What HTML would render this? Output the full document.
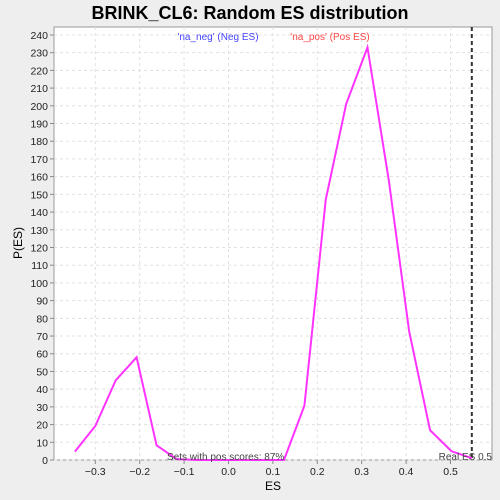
<!DOCTYPE html>
<html><head><meta charset="utf-8"><style>
body{margin:0;background:#eeeeee;font-family:"Liberation Sans",sans-serif;overflow:hidden;}
svg{display:block;}
</style></head><body>
<svg width="500" height="500" xmlns="http://www.w3.org/2000/svg">
<text x="250" y="19" text-anchor="middle" font-size="18" font-weight="bold" fill="#000">BRINK_CL6: Random ES distribution</text>
<rect x="54" y="27" width="438" height="433" fill="#fff" stroke="#999"/>
<g id="grid"></g><g id="axes"></g>
<text x="218" y="40" text-anchor="middle" font-size="10" fill="#4444ff">'na_neg' (Neg ES)</text>
<text x="330" y="40" text-anchor="middle" font-size="10" fill="#ff4444">'na_pos' (Pos ES)</text>
<text x="22" y="243" text-anchor="middle" font-size="12" transform="rotate(-90 22 243)">P(ES)</text>
<text x="273" y="490" text-anchor="middle" font-size="12">ES</text>
<g id="series"></g>
<text x="167" y="460" font-size="10" fill="#444">Sets with pos scores: 87%</text>
<text x="492" y="460" text-anchor="end" font-size="10" fill="#444">Real ES 0.5</text>
</svg>
<script>
const esValues=[-0.346,-0.3,-0.254,-0.207,-0.162,-0.117,-0.07,-0.023,0.023,0.07,0.125,0.171,0.219,0.265,0.313,0.361,0.407,0.454,0.502,0.548];
const pValues=[4.7,19.2,45,58,8.3,0.5,0,0,0,0,0,30.7,147,201,233,158,72.5,16.8,5,1];
const realES=0.548;
const xTicks=[-0.3,-0.2,-0.1,0.0,0.1,0.2,0.3,0.4,0.5];
const yTicks=[0,10,20,30,40,50,60,70,80,90,100,110,120,130,140,150,160,170,180,190,200,210,220,230,240];
const NS="http://www.w3.org/2000/svg";
const X=v=>228.5+v*444, Y=v=>460-v*1.771;
function mk(t,a,p){const e=document.createElementNS(NS,t);for(const k in a)e.setAttribute(k,a[k]);p.appendChild(e);return e;}
const grid=document.getElementById('grid'),axes=document.getElementById('axes'),ser=document.getElementById('series');
xTicks.forEach(t=>{
 const g=mk('line',{x1:X(t),x2:X(t),y1:27,y2:460,stroke:'#e0e0e0','stroke-dasharray':'3,3'},grid);
 
 
 const tk=mk('line',{x1:X(t),x2:X(t),y1:460,y2:464,stroke:'#888'},axes);
 
 
 const l=mk('text',{x:X(t),y:475,'text-anchor':'middle','font-size':'10.5',fill:'#222'},axes);
 l.textContent=t.toFixed(1).replace('-','\u2212');
 
 
});
yTicks.forEach(t=>{
 const g=mk('line',{x1:54,x2:492,y1:Y(t),y2:Y(t),stroke:'#e0e0e0','stroke-dasharray':'3,3'},grid);
 
 
 const tk=mk('line',{x1:50,x2:54,y1:Y(t),y2:Y(t),stroke:'#888'},axes);
 
 
 const l=mk('text',{x:48,y:Y(t)+4,'text-anchor':'end','font-size':'10.5',fill:'#222'},axes);
 l.textContent=t;
 
 
});
const rl=mk('line',{x1:X(realES),x2:X(realES),y1:27,y2:460,stroke:'#333','stroke-width':2,'stroke-dasharray':'4,3'},ser);


const pl=mk('polyline',{points:esValues.map((v,i)=>X(v)+','+Y(pValues[i])).join(' '),fill:'none',stroke:'#ff33ff','stroke-width':2},ser);


</script>
</body></html>
